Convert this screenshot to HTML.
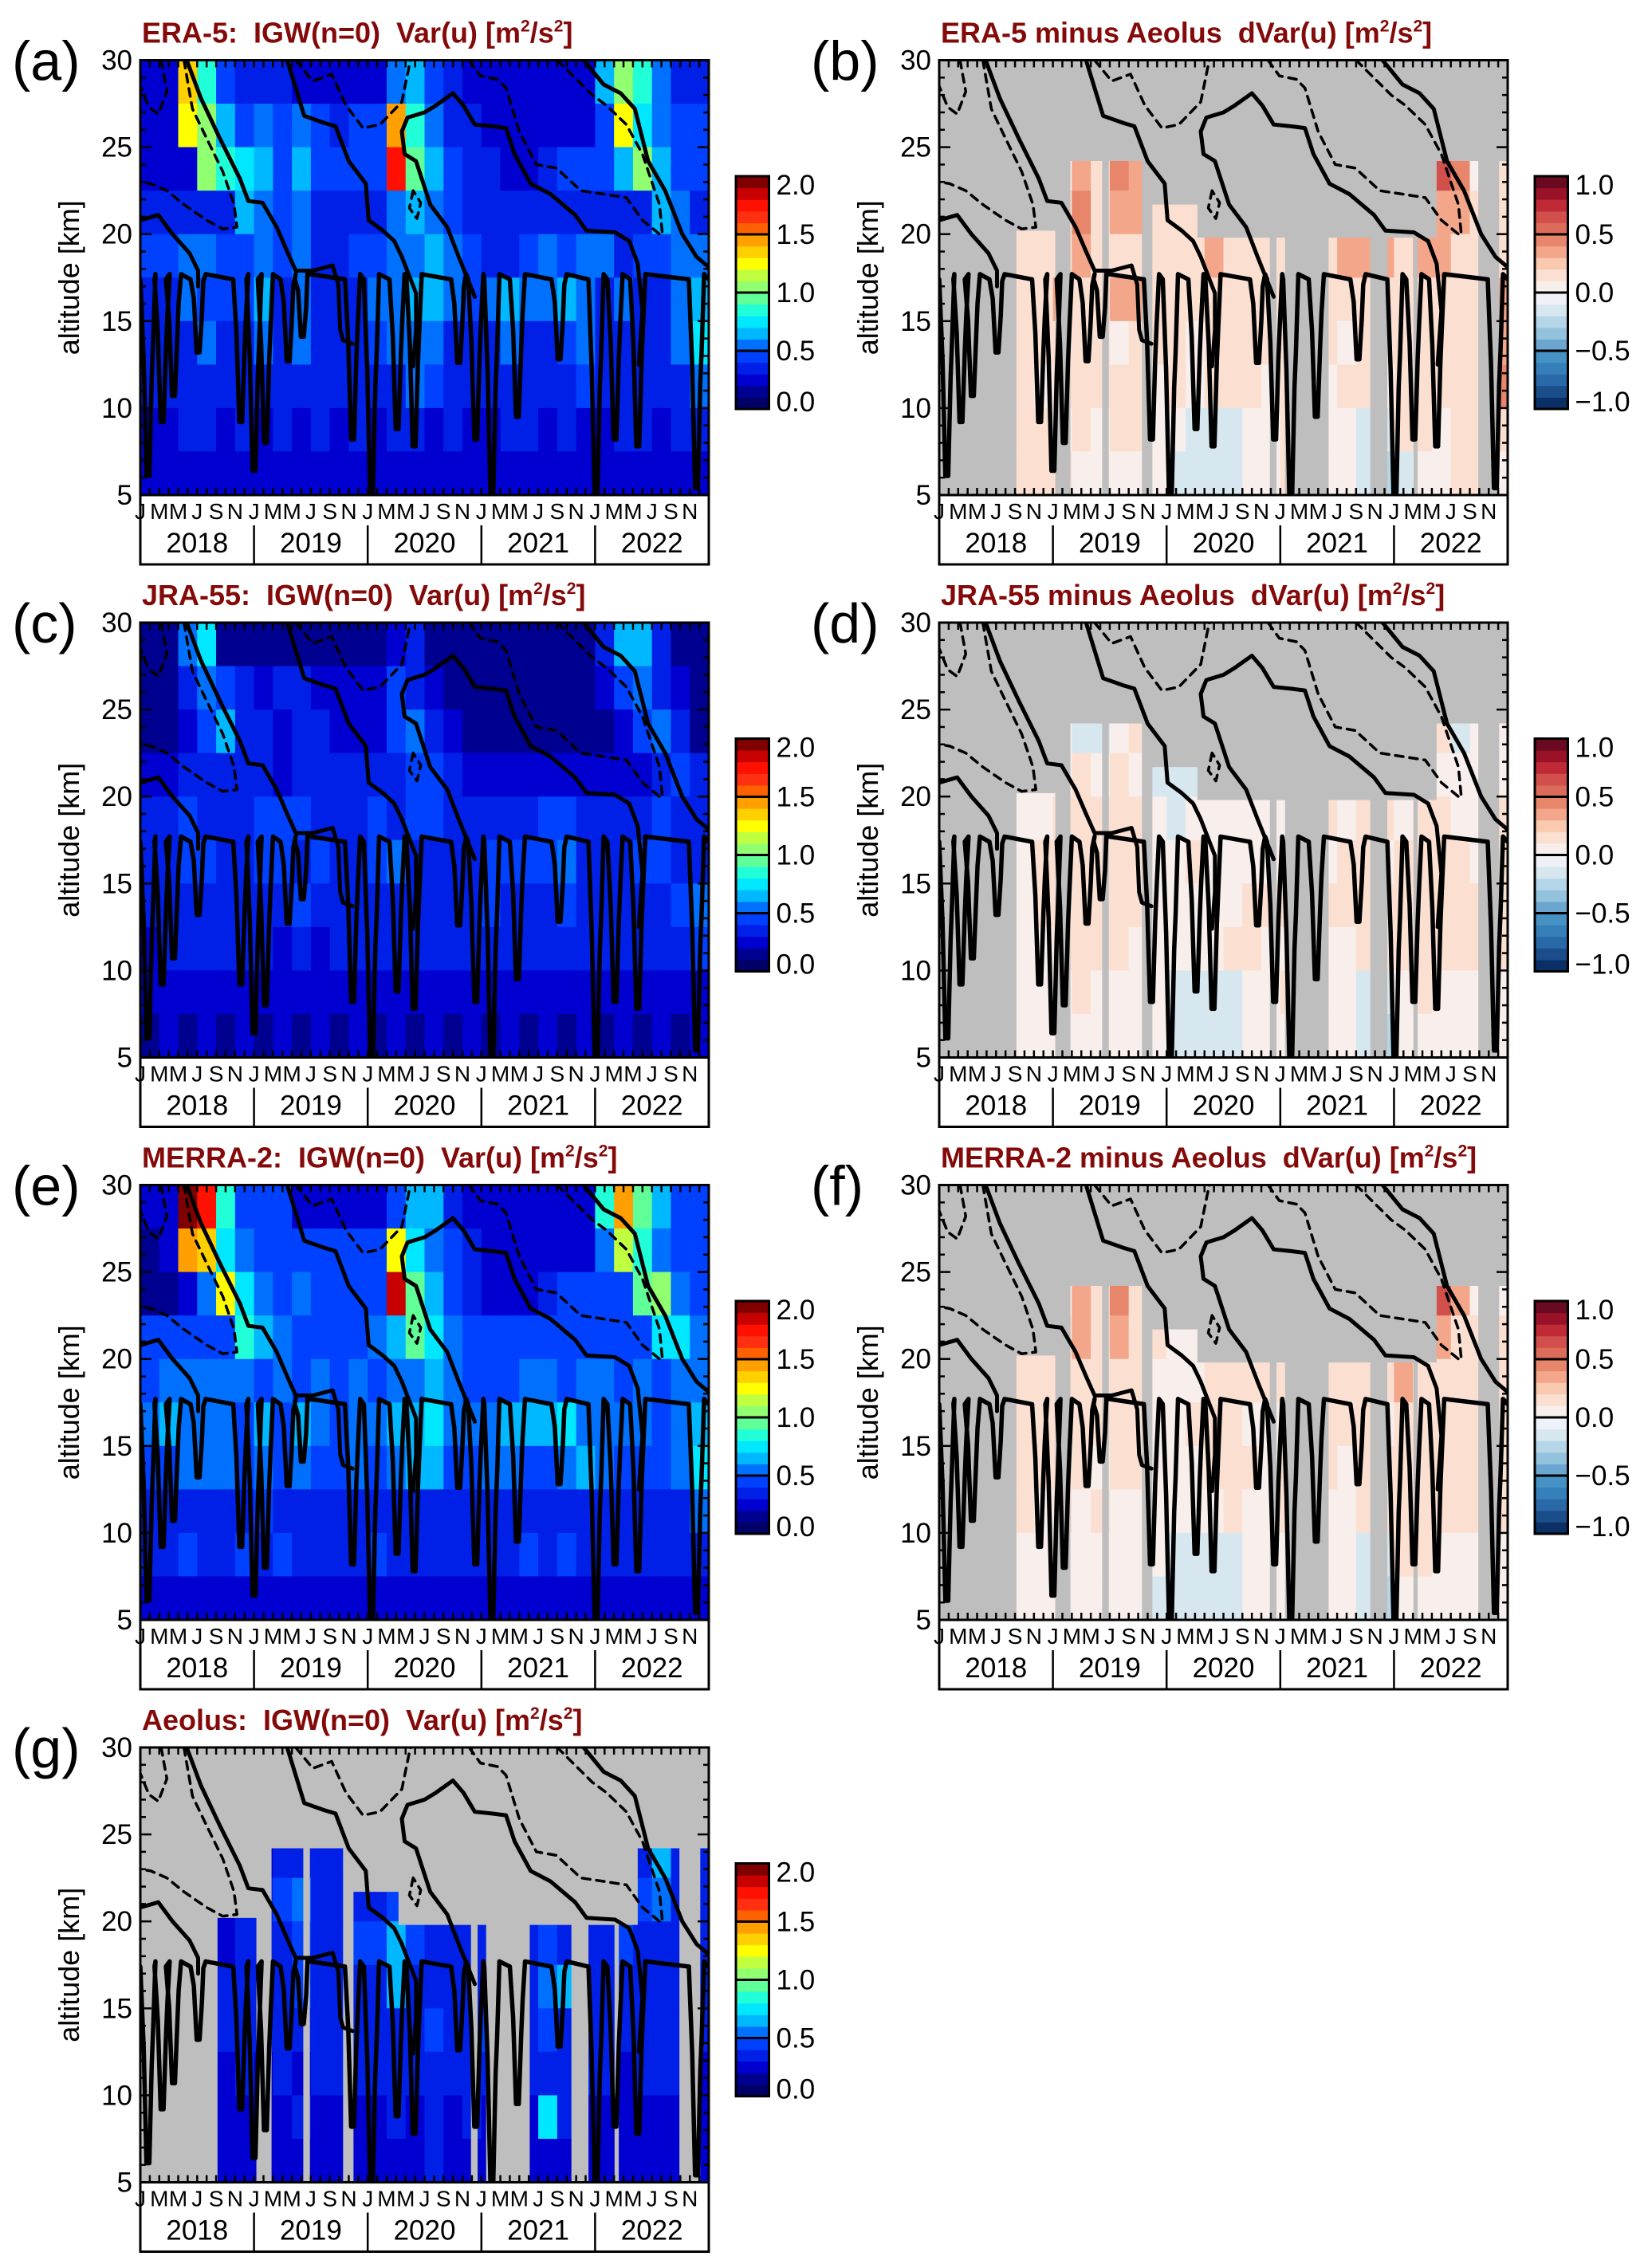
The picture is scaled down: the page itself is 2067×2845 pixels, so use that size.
<!DOCTYPE html>
<html><head><meta charset="utf-8"><title>IGW variance panels</title>
<style>html,body{margin:0;padding:0;background:#fff}svg{display:block}</style></head>
<body>
<svg id="fig" xmlns="http://www.w3.org/2000/svg" width="2067" height="2845" viewBox="0 0 2067 2845"></svg>
<script>
// ---------- data ----------
const years = ["2018","2019","2020","2021","2022"];
const monthLetters = ["J","M","M","J","S","N"];
const altTicks = [5,10,15,20,25,30];
const varCbLabels = ["2.0","1.5","1.0","0.5","0.0"];
const varCbValues = [2.0,1.5,1.0,0.5,0.0];
const diffCbLabels = ["1.0","0.5","0.0","\u22120.5","\u22121.0"];
const diffCbValues = [1.0,0.5,0.0,-0.5,-1.0];
// Aeolus data availability blocks: [startMonth, endMonth, topAltitude]
const aeolusBlocks = [[8.15,12.25,20.2],[13.85,17.2,24.2],[17.9,21.4,24.2],[22.5,27.25,21.7],[27.25,34.9,19.8],[35.6,36.5,19.8],[41.1,45.5,19.8],[47.3,50.05,19.8],[50.5,52.5,19.8],[52.5,56.9,24.2],[59.1,60,24.2]];
// Variance grids: rows top(30km)->bottom(5km), 2.5 km each; 30 columns of 2 months; base-20 char = value*10
const gridERA5 = [
"22d84"+"33322"+"22256"+"43222"+"22226"+"a8533",
"22ca6"+"45454"+"344e8"+"53322"+"22224"+"c7544",
"222a8"+"76464"+"444h9"+"64332"+"23444"+"6a644",
"33333"+"65453"+"33356"+"54333"+"33333"+"33653",
"44554"+"45453"+"34455"+"65433"+"45455"+"34455",
"33544"+"46353"+"33556"+"65456"+"55653"+"53356",
"33353"+"35353"+"33455"+"53335"+"33453"+"33357",
"33333"+"33333"+"33335"+"43333"+"33343"+"33335",
"22332"+"32323"+"23233"+"23223"+"32322"+"33233",
"22222"+"22222"+"22222"+"22222"+"22222"+"22222"];
const gridJRA55 = [
"11571"+"11111"+"11123"+"11111"+"11113"+"66311",
"11354"+"32332"+"22243"+"21111"+"11112"+"45321",
"11246"+"33233"+"22245"+"32111"+"11111"+"24531",
"22333"+"33233"+"33334"+"43222"+"22222"+"22343",
"33433"+"34443"+"33434"+"43333"+"34433"+"33433",
"33443"+"34434"+"33453"+"33344"+"44533"+"34433",
"33333"+"33343"+"33333"+"33343"+"33433"+"33345",
"23333"+"33232"+"33333"+"33333"+"33333"+"33334",
"22222"+"22222"+"22222"+"22222"+"22222"+"22222",
"12121"+"21212"+"12121"+"21212"+"12121"+"21212"];
const gridMERRA2 = [
"22jh8"+"44422"+"22246"+"63222"+"22228"+"e9644",
"12ed7"+"54444"+"444c7"+"54322"+"22225"+"b8544",
"1125c"+"75454"+"444i9"+"64322"+"23444"+"49a54",
"44444"+"86544"+"44569"+"75444"+"44444"+"44775",
"45555"+"54545"+"45455"+"65444"+"55455"+"45455",
"56555"+"46465"+"45566"+"75556"+"66755"+"55456",
"44555"+"45454"+"45456"+"64455"+"44565"+"44457",
"33333"+"34333"+"33333"+"33333"+"33333"+"33335",
"33433"+"43433"+"33433"+"33333"+"43433"+"33333",
"22222"+"22222"+"22222"+"22222"+"22222"+"22222"];
const gridAeolus = [
"22222"+"22222"+"22222"+"22222"+"22222"+"22222",
"22222"+"22222"+"22222"+"22222"+"22222"+"22222",
"22222"+"22333"+"33333"+"33333"+"33333"+"33633",
"22222"+"33453"+"33343"+"33333"+"33333"+"44533",
"22222"+"33343"+"34464"+"33333"+"34333"+"43333",
"22223"+"33343"+"33363"+"33333"+"35633"+"33333",
"22223"+"33333"+"33333"+"43343"+"34333"+"33333",
"22222"+"32323"+"33333"+"33333"+"33333"+"23332",
"22222"+"22232"+"22232"+"32322"+"27322"+"22222",
"22222"+"22222"+"22222"+"32222"+"22222"+"22222"];
// Difference grids: digit d -> value (d-5)*0.15
const diffERA5 = [
"55555"+"55555"+"55555"+"55555"+"55555"+"55555",
"55555"+"55555"+"55555"+"55555"+"55555"+"55555",
"55555"+"55768"+"76666"+"66666"+"66666"+"69856",
"66666"+"66867"+"76666"+"66666"+"66776"+"67766",
"66666"+"66766"+"66667"+"66667"+"67776"+"77666",
"66666"+"67667"+"76666"+"66666"+"66666"+"66667",
"66666"+"66665"+"66656"+"66666"+"65666"+"66667",
"66666"+"56666"+"65656"+"66565"+"56656"+"66668",
"66666"+"65656"+"65544"+"45566"+"55446"+"65666",
"66666"+"66555"+"55444"+"45566"+"55434"+"55665"];
const diffJRA55 = [
"55555"+"55555"+"55555"+"55555"+"55555"+"55555",
"55555"+"55555"+"55555"+"55555"+"55555"+"55555",
"55555"+"55445"+"65555"+"55555"+"55555"+"56455",
"55555"+"55656"+"54444"+"44555"+"55665"+"55555",
"55555"+"56666"+"65455"+"55555"+"65665"+"66556",
"55555"+"66666"+"65565"+"55566"+"56656"+"66656",
"55555"+"66666"+"65555"+"56665"+"66666"+"66666",
"55555"+"56666"+"55555"+"66555"+"55666"+"66666",
"55555"+"55655"+"55444"+"45566"+"55445"+"65555",
"55555"+"55555"+"55444"+"45555"+"55435"+"55555"];
const diffMERRA2 = [
"55555"+"55555"+"55555"+"55555"+"55555"+"55555",
"55555"+"55555"+"55555"+"55555"+"55555"+"55555",
"55555"+"55768"+"66666"+"66666"+"66666"+"69755",
"66666"+"66767"+"66556"+"66666"+"66666"+"67666",
"66666"+"66666"+"65556"+"66666"+"66667"+"66666",
"66666"+"66666"+"65566"+"65566"+"66656"+"66666",
"66666"+"66656"+"65556"+"66566"+"65666"+"66666",
"66666"+"56565"+"55555"+"65566"+"55666"+"66666",
"55555"+"55555"+"55444"+"45556"+"55446"+"65555",
"55555"+"55555"+"54444"+"45555"+"55435"+"55555"];
// Wind contours (month since Jan 2018, altitude km)
const solidA = [[4.9,30],[6.4,27.8],[8.4,25.5],[10.5,23.2],[11.4,21.9],[12.9,21.8],[14.4,20.4],[15.5,19],[16.4,17.9],[18.2,17.9],[20.3,18.2],[20.9,17.1],[21.1,14.5],[21.4,13.9],[22.4,13.7]];
const solidB = [[15.5,30],[17.3,26.8],[19.4,26.4],[20.6,26.2],[22,24.2],[23.8,22.9],[24.1,20.8],[25.6,20.2],[26.8,19.6],[27.6,18.7],[29.1,16.6],[29.1,14.5],[28.8,12.4]];
const solidC = [[35.3,16.4],[33.6,18.7],[32.4,20.4],[30.6,21.7],[29.1,24.2],[27.9,24.6],[27.6,25.9],[28.2,26.7],[30,27],[31.2,27.4],[33,28.1],[34.1,27.4],[35.3,26.3],[37.1,26.2],[38.6,26.1],[39.5,24.6],[41.2,22.9],[43.3,22.3],[45.9,21.1],[47.1,20.2],[50.1,20.1],[51.6,19.6],[52.5,18.3],[53,15.6],[52.6,12.5]];
const solidD = [[46.8,30],[48.9,28.6],[50.7,28.1],[52.2,27.2],[53.6,24.2],[55.4,22.5],[57.2,20],[58.7,18.7],[60,18.1]];
const solidE = [[0,20.8],[1.9,21.1],[3.4,20],[5.2,18.9],[6.1,17.9],[6.1,17]];
const dashA = [[2.2,30],[2.8,28.2],[1.9,26.9],[0.9,27.3],[0,28.5]];
const dashB = [[4.6,30],[5.5,27.2],[7,25.5],[8.7,23.6],[9.9,21.7],[10.2,20.4],[8.7,20.3],[7,20.8],[4.6,21.7],[2.8,22.5],[1.1,22.9],[0,23]];
const dashC = [[16.4,30],[18.2,28.8],[20.2,29.2],[21.7,27.4],[23.5,26.1],[25.3,26.3],[27.6,27.6],[28.5,30]];
const dashD = [[34.7,30],[35.9,29.1],[37.7,28.9],[38.6,28.4],[40,25.9],[41.8,24],[43.9,23.8],[46.5,22.5],[48.9,22.3],[51.3,22.1],[53,20.8],[54.8,20]];
const dashE = [[44,30],[47.7,28],[49.2,27.4],[51.3,26.3],[53,24.6],[54.8,21.7],[55.1,20]];
const dashF = [[28.8,22.5],[28.4,21.5],[29.2,20.9],[29.6,21.8],[28.8,22.5]];
const tropoBase = 17.4;
const tropoDips = [[0.8,6.1],[2.3,9.2],[3.5,10.7],[6.1,13.2],[10.6,9.2],[12,6.4],[13.2,8],[15.6,12.7],[17.1,14.1],[22.4,8.2],[24.4,5],[27.1,8.8],[28.9,7.8],[33.6,12.6],[35.4,8.2],[37.1,5],[39.8,9.5],[44.2,12.8],[48.1,5],[50.1,8.2],[52.5,7.8],[58.7,5.4]];

const varColors = ["#000066","#000090","#0000d0","#0020e8","#0040ff","#0070ff","#00b8ff","#00e8ff","#20ffd8","#60ff98","#90ff70","#c0ff40","#ffff00","#ffd000","#ffa000","#ff6000","#ff3010","#ff1000","#c80000","#800000"];
const diffColors = ["#0b3065","#1b4d8a","#2a69a8","#3680ba","#4692c5","#6aa6cf","#93c2dd","#b5d5e8","#d7e7f0","#eef2f8","#f8efec","#fbe0d2","#f9c9b0","#f4a68a","#e8866c","#dd6b5a","#d2504c","#c02a36","#9a1228","#6a0a20"];

// ---------- layout ----------
const NS = "http://www.w3.org/2000/svg";
const svg = document.getElementById("fig");
const colLeft = [176, 1178];
const PW = 713, PH = 545.5, ROW0 = 75.5, ROWP = 705.5;
const FONT = '"Liberation Sans", Arial, sans-serif';

function el(tag, attrs, parent) {
  const e = document.createElementNS(NS, tag);
  for (const k in attrs) e.setAttribute(k, attrs[k]);
  (parent || svg).appendChild(e);
  return e;
}

function drawPanel(p) {
  const L = colLeft[p.col], T = ROW0 + ROWP * p.row, B = T + PH, R = L + PW;
  const xm = m => L + m * PW / 60;
  const ya = a => T + (30 - a) * PH / 25;
  const g = el("g", {});
  
  

  const clipId = "clip-" + p.id;
  const defs = el("defs", {}, g);
  const cp = el("clipPath", {id: clipId}, defs);
  el("rect", {x: L, y: T, width: PW, height: PH}, cp);

  const bg = el("rect", {x: L, y: T, width: PW, height: PH, fill: p.masked ? "#bebebe" : "#000066"}, g);
  
  

  let hg;
  if (p.masked) {
    const mid = "mask-" + p.id;
    const mc = el("clipPath", {id: mid}, defs);
    aeolusBlocks.forEach(b => el("rect", {x: xm(b[0]), y: ya(b[2]), width: xm(b[1]) - xm(b[0]), height: B - ya(b[2])}, mc));
    hg = el("g", {"clip-path": "url(#" + mid + ")"}, g);
  } else hg = el("g", {"clip-path": "url(#" + clipId + ")"}, g);
  
  
  p.grid.forEach((row, r) => {
    for (let c = 0; c < row.length; c++) {
      let color;
      if (p.kind === "var") {
        const v = parseInt(row[c], 20) * 0.1 + 0.05;
        color = varColors[Math.max(0, Math.min(19, Math.floor(v * 10)))];
      } else {
        const v = (parseInt(row[c], 10) - 5) * 0.15;
        color = diffColors[Math.max(0, Math.min(19, Math.floor((v + 1) * 10 + 1e-6)))];
      }
      const a1 = 30 - 2.5 * r, a0 = a1 - 2.5;
      const cell = el("rect", {x: xm(2 * c), y: ya(a1), width: xm(2 * c + 2) - xm(2 * c) + 0.5, height: ya(a0) - ya(a1) + 0.5, fill: color}, hg);
      
      
    }
  });

  const cg = el("g", {"clip-path": "url(#" + clipId + ")", fill: "none", stroke: "#000", "stroke-linejoin": "round", "stroke-linecap": "round"}, g);
  
  
  const line = (pts, dashed, name, w) => {
    const d = pts.map((q, i) => (i ? "L" : "M") + xm(q[0]).toFixed(1) + "," + ya(q[1]).toFixed(1)).join(" ");
    const pa = el("path", {d: d, "stroke-width": w || (dashed ? 3.5 : 5), "stroke-dasharray": dashed ? "10,8" : "none"}, cg);
    
    
  };
  [solidA, solidB, solidC, solidD, solidE].forEach(s => line(s, false, "contour-solid"));
  [dashA, dashB, dashC, dashD, dashE, dashF].forEach(s => line(s, true, "contour-dashed"));
  const tp = [[0, tropoBase]];
  tropoDips.forEach(dp => {
    const mid = (tropoBase + dp[1]) / 2;
    tp.push([dp[0] - 0.8, tropoBase], [dp[0] - 0.45, mid + 1], [dp[0] - 0.15, dp[1]], [dp[0] + 0.15, dp[1]], [dp[0] + 0.4, mid], [dp[0] + 0.55, mid + 2], [dp[0] + 0.8, tropoBase + 0.3]);
  });
  tp.push([60, tropoBase]);
  line(tp, false, "contour-tropopause", 5.5);

  const fr = el("rect", {x: L, y: T, width: PW, height: PH, fill: "none", stroke: "#000", "stroke-width": 3}, g);
  
  
  const tk = el("g", {stroke: "#000", "stroke-width": 2.5}, g);
  
  
  for (let k = 6; k < 30; k++) {
    const len = k % 5 === 0 ? 14 : 7, y = ya(k);
    el("line", {x1: L, x2: L + len, y1: y, y2: y}, tk);
    el("line", {x1: R, x2: R - len, y1: y, y2: y}, tk);
  }
  for (let m = 1; m < 60; m++) {
    const x = xm(m);
    el("line", {x1: x, x2: x, y1: T, y2: T + 9}, tk);
    el("line", {x1: x, x2: x, y1: B, y2: B - 9}, tk);
  }
  altTicks.forEach(a => {
    const t = el("text", {x: L - 10, y: ya(a) + 12, "text-anchor": "end", "font-size": 35, "font-family": FONT}, g);
    t.textContent = a;
    
    
  });
  const yt = el("text", {x: 0, y: 0, "text-anchor": "middle", "font-size": 36, "font-family": FONT, transform: "translate(" + (L - 77) + "," + (T + PH / 2) + ") rotate(-90)"}, g);
  yt.textContent = "altitude [km]";
  
  

  const bx = el("rect", {x: L, y: B, width: PW, height: 87, fill: "none", stroke: "#000", "stroke-width": 3}, g);
  
  
  years.forEach((yr, i) => {
    monthLetters.forEach((ml, k) => {
      const t = el("text", {x: xm(12 * i + 2 * k), y: B + 30, "text-anchor": "middle", "font-size": 28, "font-family": FONT}, g);
      t.textContent = ml;
      
      
    });
    const t = el("text", {x: xm(12 * i + 6), y: B + 72, "text-anchor": "middle", "font-size": 35, "font-family": FONT}, g);
    t.textContent = yr;
    
    
    if (i > 0) el("line", {x1: xm(12 * i), x2: xm(12 * i), y1: B + 38, y2: B + 87, stroke: "#000", "stroke-width": 2.5}, g);
  });

  const tt = el("text", {x: L + 2, y: T - 22, "font-size": 36, "font-weight": "bold", fill: "#840a0a", "font-family": FONT}, g);
  
  
  tt.setAttributeNS("http://www.w3.org/XML/1998/namespace", "xml:space", "preserve");
  const parts = [[p.title + " [m", 0, 0], ["2", 21, -14], ["/s", 0, 14], ["2", 21, -14], ["]", 0, 14]];
  parts.forEach(pt => {
    const s = document.createElementNS(NS, "tspan");
    if (pt[1]) s.setAttribute("font-size", pt[1]);
    s.setAttribute("dy", pt[2]);
    s.textContent = pt[0];
    tt.appendChild(s);
  });

  const pl = el("text", {x: L - 161, y: T + 25, "font-size": 70, "font-family": FONT}, g);
  pl.textContent = "(" + p.id + ")";
  
  

  const cbx = L + 747, cby = T + 145.5, cbw = 41.5, cbh = 292;
  const cb = el("g", {}, g);
  
  
  const cols = p.kind === "var" ? varColors : diffColors;
  cols.forEach((c, i) => {
    el("rect", {x: cbx, y: cby + cbh - (i + 1) * cbh / 20, width: cbw, height: cbh / 20 + 0.5, fill: c}, cb);
  });
  [5, 10, 15].forEach(i => el("line", {x1: cbx, x2: cbx + cbw, y1: cby + cbh - i * cbh / 20, y2: cby + cbh - i * cbh / 20, stroke: "#000", "stroke-width": 3}, cb));
  el("rect", {x: cbx, y: cby, width: cbw, height: cbh, fill: "none", stroke: "#000", "stroke-width": 3}, cb);
  const labs = p.kind === "var" ? varCbLabels : diffCbLabels;
  const vals = p.kind === "var" ? varCbValues : diffCbValues;
  const vmin = p.kind === "var" ? 0 : -1, vmax = p.kind === "var" ? 2 : 1;
  labs.forEach((lb, i) => {
    let cy = cby + (vmax - vals[i]) / (vmax - vmin) * cbh;
    cy = Math.max(cby + 11, Math.min(cby + cbh - 9, cy));
    const t = el("text", {x: cbx + cbw + 9, y: cy + 12, "font-size": 35, "font-family": FONT}, cb);
    t.textContent = lb;
    
    
  });
}

const panels = [
  {id: "a", col: 0, row: 0, kind: "var", grid: gridERA5, masked: false, title: "ERA-5:  IGW(n=0)  Var(u)"},
  {id: "b", col: 1, row: 0, kind: "diff", grid: diffERA5, masked: true, title: "ERA-5 minus Aeolus  dVar(u)"},
  {id: "c", col: 0, row: 1, kind: "var", grid: gridJRA55, masked: false, title: "JRA-55:  IGW(n=0)  Var(u)"},
  {id: "d", col: 1, row: 1, kind: "diff", grid: diffJRA55, masked: true, title: "JRA-55 minus Aeolus  dVar(u)"},
  {id: "e", col: 0, row: 2, kind: "var", grid: gridMERRA2, masked: false, title: "MERRA-2:  IGW(n=0)  Var(u)"},
  {id: "f", col: 1, row: 2, kind: "diff", grid: diffMERRA2, masked: true, title: "MERRA-2 minus Aeolus  dVar(u)"},
  {id: "g", col: 0, row: 3, kind: "var", grid: gridAeolus, masked: true, title: "Aeolus:  IGW(n=0)  Var(u)"}
];
panels.forEach(drawPanel);
</script>
</body></html>
